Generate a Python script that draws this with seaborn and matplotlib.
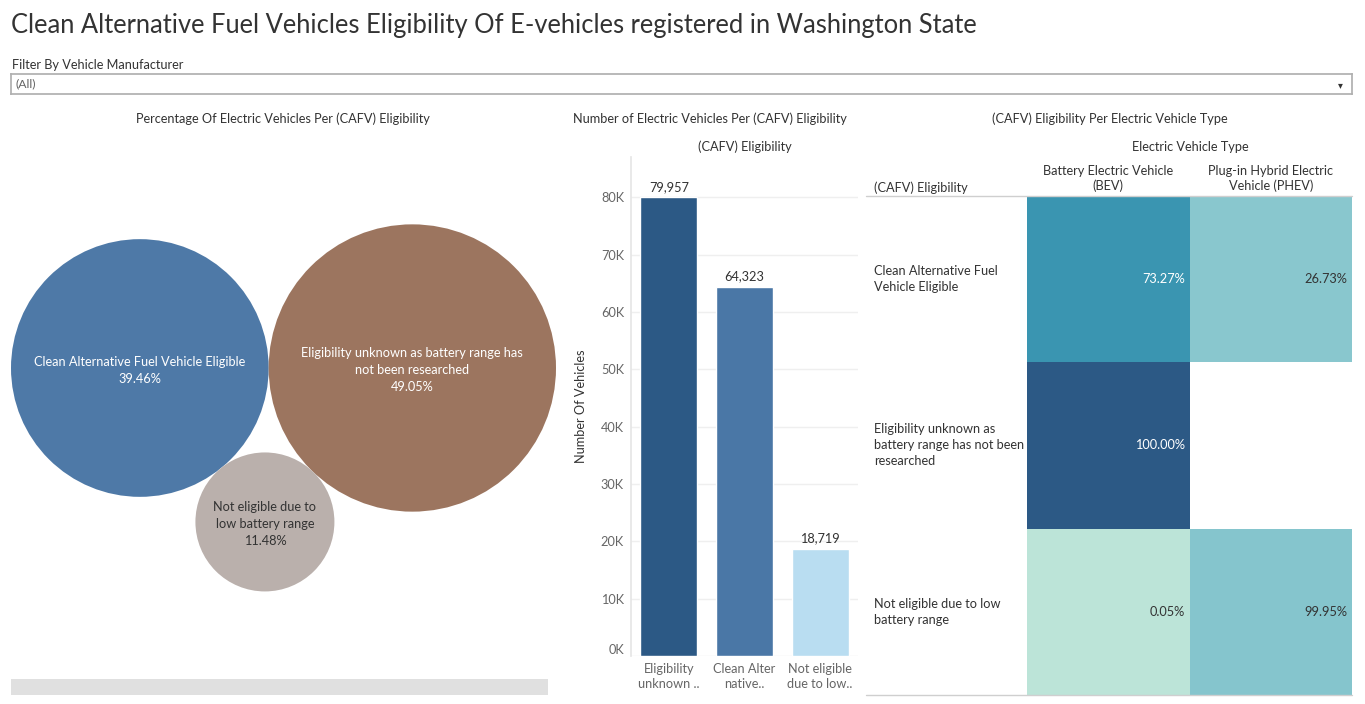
import numpy as np
import pandas as pd
import matplotlib
matplotlib.use("Agg")
import matplotlib.pyplot as plt
from matplotlib.colors import LinearSegmentedColormap
from matplotlib.patches import Circle, Rectangle
import seaborn as sns

# data
eligibility = ["Clean Alternative Fuel Vehicle Eligible",
               "Eligibility unknown as battery range has not been researched",
               "Not eligible due to low battery range"]
bubble_pct = [39.46, 49.05, 11.48]
bubble_labels = ["Clean Alternative Fuel Vehicle Eligible\n39.46%",
                 "Eligibility unknown as battery range has\nnot been researched\n49.05%",
                 "Not eligible due to\nlow battery range\n11.48%"]
bubble_colors = ["#4e79a7", "#9c755f", "#bab0ac"]
bubble_text_colors = ["white", "white", "#333333"]

bar_cats = ["Eligibility unknown ..", "Clean Alter native..", "Not eligible due to low.."]
bar_ticklabels = ["Eligibility\nunknown ..", "Clean Alter\nnative..", "Not eligible\ndue to low.."]
bar_counts = [79957, 64323, 18719]
bar_colors = ["#2c5985", "#4a77a6", "#b9ddf1"]

ev_types = ["Battery Electric Vehicle\n(BEV)", "Plug-in Hybrid Electric\nVehicle (PHEV)"]
row_labels = ["Clean Alternative Fuel\nVehicle Eligible",
              "Eligibility unknown as\nbattery range has not been\nresearched",
              "Not eligible due to low\nbattery range"]
pct_bev = [73.27, 100.00, 0.05]
pct_phev = [26.73, np.nan, 99.95]
row_totals = [64323, 79957, 18719]

W, H = 1365, 704
sns.set_theme(style="white")
plt.rcParams["font.family"] = ["Lato", "DejaVu Sans"]
TXT = "#333333"
GREY = "#666666"
FS = 9.2

fig = plt.figure(figsize=(W / 100, H / 100), dpi=100)


def box(x0, y0, x1, y1):
    return [x0 / W, 1 - y1 / H, (x1 - x0) / W, (y1 - y0) / H]


def ftext(x, y, s, **kw):
    fig.text(x / W, 1 - y / H, s, **kw)


# header
ftext(11, 26, "Clean Alternative Fuel Vehicles Eligibility Of E-vehicles registered in Washington State",
      fontsize=18.4, color=TXT, va="center", ha="left")
ftext(12, 65, "Filter By Vehicle Manufacturer", fontsize=FS, color=TXT, va="center")
dd = fig.add_axes(box(11, 74, 1352, 94))
dd.set_xticks([]); dd.set_yticks([])
for s in dd.spines.values():
    s.set_color("#b0b0b0")
dd.text(0.003, 0.5, "(All)", transform=dd.transAxes, fontsize=8.8, color=GREY, va="center")
dd.text(0.993, 0.45, "▾", transform=dd.transAxes, fontsize=7, color="#333333", va="center",
        ha="right", family="DejaVu Sans")

# --- bubble chart ---
ftext(283, 119, "Percentage Of Electric Vehicles Per (CAFV) Eligibility", fontsize=FS, color=TXT,
      ha="center", va="center")
r = np.sqrt(bubble_pct)
D = r[0] + r[1]
d1, d2 = r[0] + r[2], r[1] + r[2]
x3 = (d1 ** 2 - d2 ** 2 + D ** 2) / (2 * D)
y3 = -np.sqrt(d1 ** 2 - x3 ** 2)
centers = [(0.0, 0.0), (D, 0.0), (x3, y3)]

bx = fig.add_axes(box(11, 130, 556, 676))
bx.set_axis_off()
span = r[0] + D + r[1]
scale = 545 / span
top = (368 - 130) / scale
bx.set_xlim(-r[0], D + r[1])
bx.set_ylim(top - 546 / scale, top)
for (cx, cy), rr, col, lab, tc in zip(centers, r, bubble_colors, bubble_labels, bubble_text_colors):
    bx.add_patch(Circle((cx, cy), rr, color=col, lw=0))
    bx.text(cx, cy - 0.1, lab, ha="center", va="center", fontsize=FS, color=tc, linespacing=1.5)

sb = fig.add_axes(box(11, 679, 548, 695))
sb.set_axis_off()
sb.add_patch(Rectangle((0, 0), 1, 1, color="#e0e0e0", transform=sb.transAxes))

# --- bar chart ---
ftext(710, 119, "Number of Electric Vehicles Per (CAFV) Eligibility", fontsize=FS, color=TXT,
      ha="center", va="center")
ftext(745, 147, "(CAFV) Eligibility", fontsize=FS, color=TXT, ha="center", va="center")
ax = fig.add_axes(box(631, 157, 858, 656))
bars = pd.DataFrame({"cat": bar_cats, "n": bar_counts})
sns.barplot(data=bars, x="cat", y="n", hue="cat", palette=bar_colors, legend=False,
            width=0.75, saturation=1, ax=ax)
ax.set_xlim(-0.5, 2.5)
ax.set_ylim(0, 87000)
ax.set_yticks(np.arange(0, 80001, 10000))
ax.set_yticklabels([f"{int(v / 1000)}K" for v in np.arange(0, 80001, 10000)], fontsize=FS, color=GREY)
ax.get_yticklabels()[0].set_va("bottom")
ax.set_xticks(range(3))
ax.set_xticklabels(bar_ticklabels, fontsize=FS, color=GREY, linespacing=1.3)
ax.tick_params(axis="both", length=0, pad=5)
ax.set_xlabel("")
ax.set_ylabel("Number Of Vehicles", fontsize=FS, color=TXT, labelpad=10)
ax.grid(axis="y", color="#efefef", lw=1)
ax.set_axisbelow(True)
for k, s in ax.spines.items():
    s.set_visible(k == "left")
ax.spines["left"].set_color("#e6e6e6")
for p, v in zip(ax.patches, bar_counts):
    ax.text(p.get_x() + p.get_width() / 2, v + 800, f"{v:,}", ha="center", va="bottom",
            fontsize=FS, color=TXT)

# --- heatmap ---
ftext(1110, 119, "(CAFV) Eligibility Per Electric Vehicle Type", fontsize=FS, color=TXT,
      ha="center", va="center")
ftext(1190, 147, "Electric Vehicle Type", fontsize=FS, color=TXT, ha="center", va="center")
pct = pd.DataFrame({ev_types[0]: pct_bev, ev_types[1]: pct_phev}, index=row_labels)
counts = pct.mul(row_totals, axis=0) / 100
cmap = LinearSegmentedColormap.from_list(
    "blueteal", ["#bce4d8", "#9dd3d6", "#81c3cb", "#5fb1c2", "#45a2b9", "#368fae", "#347da0",
                 "#2f6b93", "#2c5985"])
hx = fig.add_axes(box(1027, 196, 1352, 695))
sns.heatmap(counts, cmap=cmap, vmin=0, vmax=counts.max().max(), cbar=False, ax=hx,
            linewidths=0)
hx.xaxis.tick_top()
hx.set_xticklabels(ev_types, fontsize=FS, color=TXT, rotation=0, linespacing=1.25)
hx.set_yticklabels(row_labels, fontsize=FS, color=TXT, rotation=0, ha="left", va="center",
                   linespacing=1.4)
hx.tick_params(axis="y", length=0, pad=110)
hx.tick_params(axis="x", length=0, pad=3)
for i in range(len(row_labels)):
    for j in range(len(ev_types)):
        v = pct.iloc[i, j]
        if np.isnan(v):
            continue
        c = counts.iloc[i, j] / counts.max().max()
        hx.text(j + 1 - 0.03, i + 0.5, f"{v:.2f}%", ha="right", va="center", fontsize=FS,
                color="white" if c > 0.5 else TXT)
ftext(874, 188, "(CAFV) Eligibility", fontsize=FS, color=TXT, ha="left", va="center")
fig.add_artist(plt.Line2D([866 / W, 1352 / W], [1 - 196 / H, 1 - 196 / H], color="#cfcfcf", lw=1))
fig.add_artist(plt.Line2D([866 / W, 1352 / W], [1 - 695 / H, 1 - 695 / H], color="#cfcfcf", lw=1))

fig.savefig("out.png", dpi=100, facecolor="white")
